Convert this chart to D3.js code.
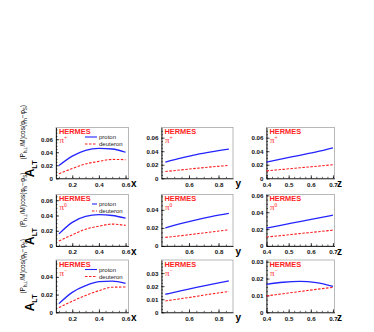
<!DOCTYPE html>
<html>
<head>
<meta charset="utf-8">
<script src="https://cdn.jsdelivr.net/npm/d3@7/dist/d3.min.js"></script>
<style>
  body { margin: 0; background: #fff; }
  svg { display: block; font-family: "Liberation Sans", Arial, sans-serif; }
</style>
</head>
<body>
<svg id="chart"></svg>
<script>
// abscissa grids of the model curves
const xVals = [0.1, 0.2, 0.3, 0.4, 0.5, 0.6];
const yVals = [0.44, 0.55, 0.65, 0.75, 0.87];
const zVals = [0.4, 0.475, 0.55, 0.625, 0.7];

// rows: pi+, pi0, pi-
const pions = ["+", "0", "\u2212"];

const protonX = [
  [0.0195, 0.034, 0.043, 0.046, 0.045, 0.040],
  [0.0159, 0.031, 0.0389, 0.041, 0.040, 0.0366],
  [0.0098, 0.0225, 0.030, 0.0345, 0.0352, 0.0325]
];
const deuteronX = [
  [0.007, 0.015, 0.022, 0.026, 0.029, 0.0285],
  [0.0066, 0.0146, 0.022, 0.026, 0.0287, 0.027],
  [0.0053, 0.0125, 0.019, 0.0245, 0.0283, 0.0285]
];
const protonY = [
  [0.024, 0.030, 0.035, 0.039, 0.043],
  [0.020, 0.025, 0.029, 0.0325, 0.036],
  [0.0138, 0.0165, 0.019, 0.0213, 0.024]
];
const deuteronY = [
  [0.010, 0.0125, 0.0147, 0.0168, 0.019],
  [0.0095, 0.0115, 0.0135, 0.0155, 0.018],
  [0.0087, 0.0105, 0.0122, 0.014, 0.0159]
];
const protonZ = [
  [0.024, 0.029, 0.034, 0.039, 0.045],
  [0.0212, 0.025, 0.029, 0.0328, 0.0365],
  [0.0166, 0.0178, 0.0183, 0.0176, 0.0153]
];
const deuteronZ = [
  [0.011, 0.0132, 0.0155, 0.0177, 0.020],
  [0.0106, 0.0126, 0.0147, 0.0167, 0.0188],
  [0.0097, 0.011, 0.0123, 0.0136, 0.0148]
];

// axis ranges and tick labels
const xDomains = [[0.078, 0.622], [0.414, 0.898], [0.4, 0.707]];
const xTicks = [[0.2, 0.4, 0.6], [0.6, 0.8], [0.4, 0.5, 0.6, 0.7]];
const xMinor = [0.05, 0.05, 0.025];
const xTitles = ["x", "y", "z"];
const yMax = [
  [0.078, 0.075, 0.075],
  [0.0675, 0.057, 0.061],
  [0.059, 0.040, 0.031]
];
const yTicks = [
  [[0, 0.02, 0.04, 0.06], [0, 0.02, 0.04, 0.06], [0, 0.02, 0.04, 0.06]],
  [[0, 0.02, 0.04, 0.06], [0, 0.02, 0.04], [0, 0.02, 0.04, 0.06]],
  [[0, 0.02, 0.04], [0, 0.01, 0.02, 0.03], [0, 0.01, 0.02, 0.03]]
];
const yMinor = [[0.005, 0.005, 0.005], [0.005, 0.005, 0.005], [0.005, 0.0025, 0.0025]];
const legendLabels = ["proton", "deuteron"];

const W = 374, H = 332;
const svg = d3.select("#chart").attr("width", W).attr("height", H);
svg.append("rect").attr("width", W).attr("height", H).attr("fill", "#fff");

// panel frames
const colL = [56, 161.5, 266.5];
const colR = [128.5, 233, 334.5];
const rowT = [127.5, 194.5, 260];
const rowB = [178.3, 246, 312.3];

const BLUE = "#2424ff", RED = "#ff1e1e";
const fmt = v => v === 0 ? "0" : d3.format(".2f")(v);

const abscissa = [xVals, yVals, zVals];
const protonSets = [protonX, protonY, protonZ];
const deuteronSets = [deuteronX, deuteronY, deuteronZ];

for (let r = 0; r < 3; r++) {
  for (let c = 0; c < 3; c++) {
    const x = d3.scaleLinear().domain(xDomains[c]).range([colL[c], colR[c]]);
    const y = d3.scaleLinear().domain([0, yMax[r][c]]).range([rowB[r], rowT[r]]);
    const g = svg.append("g");

    g.append("rect")
      .attr("x", colL[c]).attr("y", rowT[r])
      .attr("width", colR[c] - colL[c]).attr("height", rowB[r] - rowT[r])
      .attr("fill", "none").attr("stroke", "#9a9a9a").attr("stroke-width", 0.7);

    // minor ticks
    const xm = d3.range(Math.ceil(xDomains[c][0] / xMinor[c] - 1e-6) * xMinor[c], xDomains[c][1], xMinor[c]);
    g.append("g").attr("transform", `translate(0,${rowB[r]})`)
      .call(d3.axisBottom(x).tickValues(xm).tickSize(-1.5).tickFormat(""))
      .call(a => a.select(".domain").remove())
      .selectAll("line").attr("stroke-width", 0.6);
    const ym = d3.range(0, yMax[r][c], yMinor[r][c]);
    g.append("g").attr("transform", `translate(${colL[c]},0)`)
      .call(d3.axisLeft(y).tickValues(ym).tickSize(-1.5).tickFormat(""))
      .call(a => a.select(".domain").remove())
      .selectAll("line").attr("stroke-width", 0.6);

    // major axes
    const xa = g.append("g").attr("transform", `translate(0,${rowB[r]})`)
      .call(d3.axisBottom(x).tickValues(xTicks[c]).tickSizeInner(-3).tickSizeOuter(0)
        .tickPadding(4).tickFormat(d3.format(".1f")));
    const ya = g.append("g").attr("transform", `translate(${colL[c]},0)`)
      .call(d3.axisLeft(y).tickValues(yTicks[r][c]).tickSizeInner(-3).tickSizeOuter(0)
        .tickPadding(3).tickFormat(fmt));
    [xa, ya].forEach(a => {
      a.select(".domain").attr("stroke", "#000").attr("stroke-width", 0.8);
      a.selectAll("line").attr("stroke-width", 0.7);
      a.selectAll("text").attr("font-size", 6.2).attr("font-weight", "bold").attr("fill", "#111");
    });

    // axis title
    g.append("text")
      .attr("x", colR[c] + 2.5).attr("y", rowB[r] + 9)
      .attr("font-size", 10).attr("font-weight", "bold")
      .text(xTitles[c]);

    // curves
    const line = d3.line().x(d => x(d[0])).y(d => y(d[1])).curve(d3.curveMonotoneX);
    const xs = abscissa[c];
    g.append("path")
      .attr("d", line(xs.map((v, i) => [v, deuteronSets[c][r][i]])))
      .attr("fill", "none").attr("stroke", RED).attr("stroke-width", 1.1)
      .attr("stroke-dasharray", "2.5,1.5");
    g.append("path")
      .attr("d", line(xs.map((v, i) => [v, protonSets[c][r][i]])))
      .attr("fill", "none").attr("stroke", BLUE).attr("stroke-width", 1.3);

    // labels
    g.append("text")
      .attr("x", colL[c] + 3).attr("y", rowT[r] + 6.6)
      .attr("font-size", 7.4).attr("font-weight", "bold").attr("fill", RED)
      .text("HERMES");
    const pt = g.append("text")
      .attr("x", colL[c] + 3.5).attr("y", rowT[r] + 15.5)
      .attr("font-size", 9).attr("fill", RED)
      .attr("font-family", "'Liberation Serif', serif");
    pt.append("tspan").text("\u03c0");
    pt.append("tspan").attr("dy", -3.2).attr("font-size", 5.5).text(pions[r]);

    if (c === 0) {
      const lx0 = r === 1 ? 92 : 85;
      const ly = rowT[r] + 9.5;
      [BLUE, RED].forEach((col, k) => {
        g.append("line")
          .attr("x1", lx0).attr("x2", 97).attr("y1", ly + k * 7).attr("y2", ly + k * 7)
          .attr("stroke", col).attr("stroke-width", 1.1)
          .attr("stroke-dasharray", k ? "2.5,1.5" : null);
        g.append("text")
          .attr("x", 99).attr("y", ly + k * 7 + 2)
          .attr("font-size", 6).attr("fill", "#222")
          .text(legendLabels[k]);
      });

      // y title, rotated
      const t = svg.append("text")
        .attr("transform", `translate(34,${rowB[r] - 1}) rotate(-90)`)
        .attr("font-size", 12).attr("font-weight", "bold");
      t.append("tspan").text("A");
      t.append("tspan").attr("font-size", 7).attr("dy", 3).text("LT");
      t.append("tspan").attr("font-size", 6.5).attr("font-weight", "normal")
        .attr("dy", -12).attr("dx", 1).text("(P");
      t.append("tspan").attr("font-size", 4.5).attr("font-weight", "normal").attr("dy", 2).text("h\u22a5");
      t.append("tspan").attr("font-size", 6.5).attr("font-weight", "normal").attr("dy", -2).text("/M)cos(\u03c6");
      t.append("tspan").attr("font-size", 4.5).attr("font-weight", "normal").attr("dy", 2).text("h");
      t.append("tspan").attr("font-size", 6.5).attr("font-weight", "normal").attr("dy", -2).text("\u2212\u03c6");
      t.append("tspan").attr("font-size", 4.5).attr("font-weight", "normal").attr("dy", 2).text("S");
      t.append("tspan").attr("font-size", 6.5).attr("font-weight", "normal").attr("dy", -2).text(")");
    }
  }
}
</script>
</body>
</html>
